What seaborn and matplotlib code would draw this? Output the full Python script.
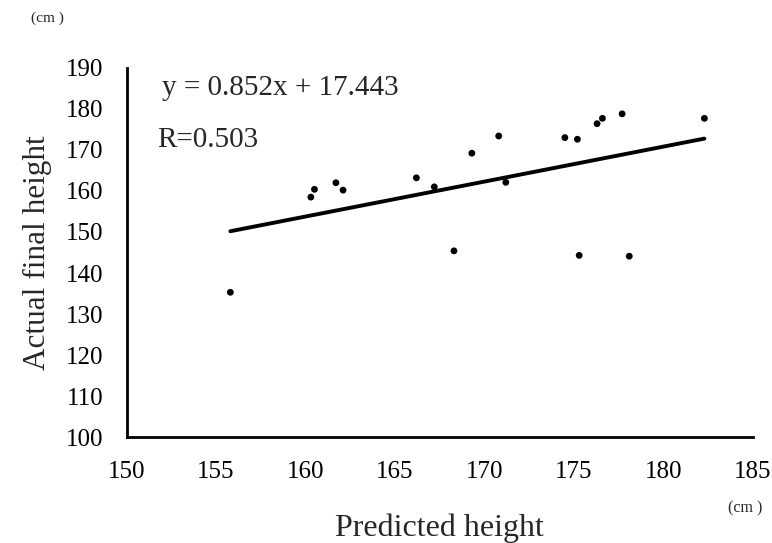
import numpy as np
import pandas as pd
from matplotlib import pyplot as plt
import seaborn as sns

predicted = [155.8, 160.3, 160.5, 161.7, 162.1, 166.2, 167.2, 168.3, 169.3, 170.8,
             171.2, 174.5, 175.2, 175.3, 176.3, 176.6, 177.7, 178.1, 182.3]
actual = [135.3, 158.5, 160.4, 162.0, 160.2, 163.2, 161.0, 145.4, 169.2, 173.4,
          162.1, 173.0, 172.6, 144.3, 176.4, 177.7, 178.8, 144.1, 177.7]
slope = 0.852
intercept = 17.443
r_value = 0.503
x_ticks = [150, 155, 160, 165, 170, 175, 180, 185]
y_ticks = [100, 110, 120, 130, 140, 150, 160, 170, 180, 190]

df = pd.DataFrame({'predicted': predicted, 'actual': actual})
# trend line from the equation shown on the chart
fit_x = np.array([df['predicted'].min(), df['predicted'].max()])
fit = pd.DataFrame({'x': fit_x, 'y': slope * fit_x + intercept})

sns.set_style('white')
plt.rcParams['font.family'] = ['Liberation Serif', 'DejaVu Serif']

fig = plt.figure(figsize=(7.72, 5.43), dpi=100)
ax = fig.add_axes([0.164, 0.195, 0.811, 0.68])

sns.scatterplot(data=df, x='predicted', y='actual', color='black', s=24,
                edgecolor='none', ax=ax)
sns.lineplot(data=fit, x='x', y='y', color='black', linewidth=2.8, ax=ax)

ax.set_xlim(150, 185)
ax.set_ylim(100, 190)
ax.set_xticks(x_ticks)
ax.set_yticks(y_ticks)
ax.tick_params(axis='both', length=0, labelsize=18, colors='black')
ax.tick_params(axis='x', pad=17)
ax.tick_params(axis='y', pad=17)
for side in ['top', 'right']:
    ax.spines[side].set_visible(False)
for side in ['left', 'bottom']:
    ax.spines[side].set_linewidth(2)
    ax.spines[side].set_color('black')

ax.set_xlabel('Predicted height', fontsize=23, labelpad=22)
ax.set_ylabel('Actual final height', fontsize=22.5, labelpad=10)

ax.text(0.057, 0.927, f'y = {slope}x + {intercept}', transform=ax.transAxes,
        fontsize=21, va='baseline', ha='left')
ax.text(0.049, 0.786, f'R={r_value}', transform=ax.transAxes,
        fontsize=21, va='baseline', ha='left')

fig.text(0.061, 0.967, '(cm )', fontsize=11, ha='center', va='center')
fig.text(0.965, 0.064, '(cm )', fontsize=11.5, ha='center', va='center')

fig.savefig('out.png', dpi=100)
